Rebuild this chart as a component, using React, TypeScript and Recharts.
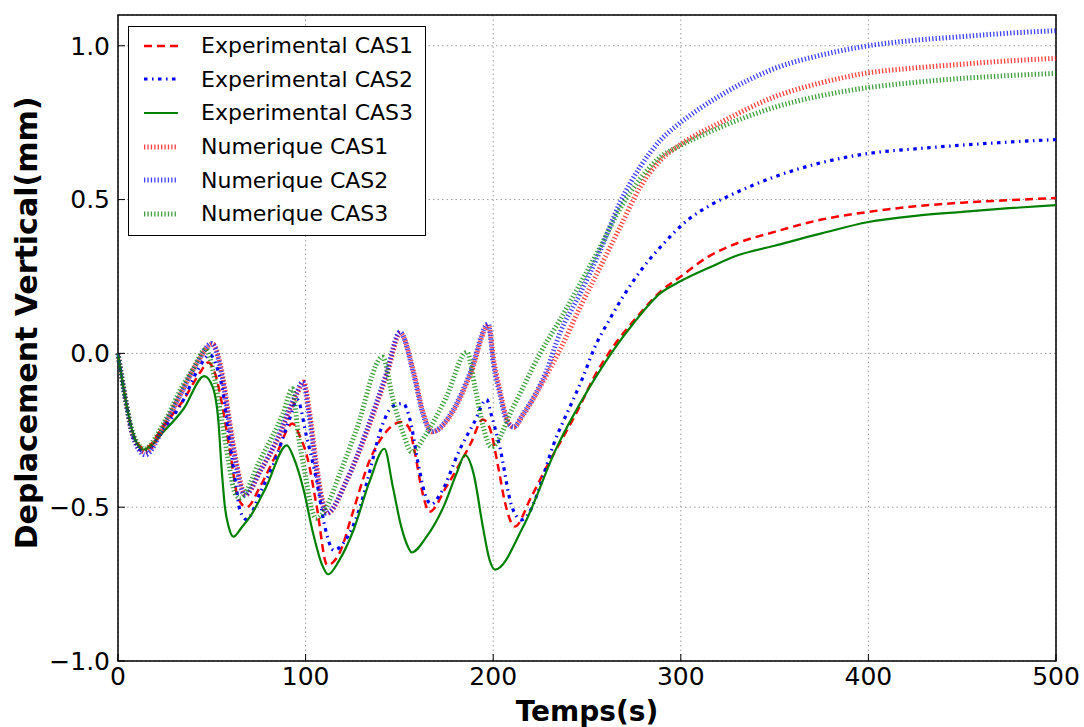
import React from "react";
import {
  CartesianGrid,
  Label,
  Legend,
  Line,
  LineChart,
  ReferenceArea,
  XAxis,
  YAxis
} from "recharts";

// time (s) / vertical displacement (mm)
const expCas1T = [0, 4, 8, 14, 25, 35, 44, 48, 52, 55, 60, 64, 68.5, 76, 85, 93, 97, 101, 106, 111.5, 118, 125, 134, 141, 151, 155, 158, 162, 166, 175, 188, 194.5, 198, 203, 206, 211.5, 220, 228.5, 246, 253.5, 261.5, 278.3, 289, 300, 315.6, 330, 350, 375, 400, 425, 450, 475, 500];
const expCas1Y = [0, -0.15, -0.26, -0.31, -0.23, -0.15, -0.06, -0.03, -0.07, -0.15, -0.33, -0.47, -0.5, -0.43, -0.32, -0.228, -0.27, -0.34, -0.5, -0.688, -0.65, -0.52, -0.35, -0.27, -0.223, -0.24, -0.315, -0.445, -0.515, -0.434, -0.293, -0.215, -0.24, -0.38, -0.477, -0.563, -0.47, -0.369, -0.174, -0.08, 0.0, 0.13, 0.2, 0.25, 0.318, 0.358, 0.395, 0.435, 0.46, 0.478, 0.49, 0.498, 0.505];

const expCas2T = [0, 4, 8, 14, 25, 35, 42, 49, 53, 55.5, 59, 63, 65, 68.5, 76, 83, 91.5, 95.5, 100.5, 106, 110.5, 115, 122, 129, 133, 140.5, 146.5, 152, 155.5, 160, 163.5, 167, 172.5, 182, 190, 196.5, 199, 203.5, 210, 215, 234.5, 248, 254, 262, 270.5, 280, 291, 303, 317, 325, 350, 375, 400, 425, 450, 475, 500];
const expCas2Y = [0, -0.15, -0.27, -0.32, -0.24, -0.15, -0.06, -0.005, -0.05, -0.11, -0.266, -0.434, -0.51, -0.54, -0.45, -0.358, -0.212, -0.15, -0.27, -0.418, -0.57, -0.64, -0.6, -0.5, -0.412, -0.24, -0.172, -0.163, -0.212, -0.358, -0.455, -0.49, -0.45, -0.315, -0.223, -0.15, -0.2, -0.304, -0.499, -0.541, -0.26, -0.075, 0.018, 0.11, 0.197, 0.28, 0.358, 0.43, 0.486, 0.51, 0.574, 0.62, 0.65, 0.665, 0.677, 0.687, 0.695];

const expCas3T = [0, 4, 8, 13.5, 25, 35, 46, 50.5, 53.5, 55.3, 57, 59, 61.5, 66, 70.5, 79, 90, 93.5, 99, 104, 108.5, 112, 118, 125.5, 134, 142, 146.5, 151, 155, 156.5, 164.5, 173.5, 180.5, 185, 189.5, 194.5, 198, 201, 216, 234, 251.5, 264, 274.7, 289, 300, 315.6, 330, 350, 375, 400, 425, 450, 475, 500];
const expCas3Y = [0, -0.15, -0.26, -0.313, -0.25, -0.18, -0.074, -0.11, -0.22, -0.38, -0.5, -0.564, -0.596, -0.565, -0.53, -0.434, -0.299, -0.337, -0.445, -0.585, -0.683, -0.718, -0.672, -0.575, -0.418, -0.31, -0.434, -0.564, -0.634, -0.647, -0.596, -0.499, -0.39, -0.331, -0.39, -0.564, -0.67, -0.703, -0.563, -0.304, -0.109, 0.01, 0.097, 0.195, 0.235, 0.28, 0.318, 0.35, 0.39, 0.427, 0.447, 0.46, 0.472, 0.482];

const numCas1T = [0, 4, 8, 14.5, 25, 34, 42, 50.5, 56, 59.5, 63, 68, 76, 85, 95.5, 99, 102, 105.5, 109, 111.5, 122, 133, 143.5, 150.5, 158, 163, 167.5, 179, 188, 197.5, 200.5, 204, 207.5, 211, 216, 228.5, 235.5, 246.3, 257, 267.6, 278.3, 289, 300, 321, 350, 375, 400, 425, 450, 475, 500];
const numCas1Y = [0, -0.15, -0.27, -0.32, -0.23, -0.125, -0.033, 0.03, -0.08, -0.22, -0.35, -0.46, -0.38, -0.282, -0.131, -0.093, -0.185, -0.347, -0.477, -0.52, -0.412, -0.25, -0.066, 0.065, -0.07, -0.2, -0.255, -0.185, -0.066, 0.09, -0.03, -0.13, -0.217, -0.24, -0.2, -0.07, 0.01, 0.15, 0.28, 0.41, 0.54, 0.627, 0.68, 0.75, 0.834, 0.88, 0.912, 0.928, 0.94, 0.951, 0.959];

const numCas2T = [0, 4, 8, 14.5, 25, 34, 42, 50, 55.5, 59, 62.5, 67.5, 76, 84.5, 95, 98.5, 101.5, 105, 108.5, 111, 122, 132.5, 143, 150.3, 157.5, 162.5, 167, 178.5, 187.5, 197.4, 200, 203.5, 207, 210.7, 216, 228.5, 235.5, 246.3, 257, 267.6, 278.3, 289, 300, 321, 350, 375, 400, 425, 450, 475, 500];
const numCas2Y = [0, -0.15, -0.27, -0.33, -0.23, -0.125, -0.033, 0.032, -0.077, -0.217, -0.347, -0.46, -0.38, -0.282, -0.131, -0.093, -0.185, -0.347, -0.477, -0.52, -0.412, -0.25, -0.066, 0.069, -0.066, -0.196, -0.255, -0.185, -0.066, 0.096, -0.03, -0.13, -0.217, -0.239, -0.196, -0.055, 0.065, 0.194, 0.334, 0.49, 0.606, 0.692, 0.751, 0.838, 0.926, 0.97, 1.0, 1.018, 1.03, 1.041, 1.049];

const numCas3T = [0, 4, 8, 14, 25, 34, 40, 46.7, 51.7, 55.3, 58.8, 62.4, 65, 75.7, 88, 93, 96, 99.7, 103, 105.5, 111, 118.3, 127, 141, 146.7, 152, 156.5, 164.5, 175, 186, 190.3, 194.7, 199, 210.7, 225, 235.5, 246.3, 257, 267.6, 278.3, 289, 300, 321, 350, 375, 400, 425, 450, 475, 500];
const numCas3Y = [0, -0.15, -0.26, -0.31, -0.22, -0.11, -0.05, 0.013, -0.088, -0.217, -0.347, -0.455, -0.47, -0.347, -0.195, -0.115, -0.26, -0.39, -0.5, -0.536, -0.5, -0.39, -0.25, -0.012, -0.153, -0.26, -0.32, -0.26, -0.142, 0.004, -0.11, -0.24, -0.304, -0.174, 0.0, 0.108, 0.226, 0.345, 0.47, 0.567, 0.638, 0.676, 0.735, 0.8, 0.838, 0.864, 0.881, 0.894, 0.903, 0.91];

const xTicks = [0, 100, 200, 300, 400, 500];
const yTicks = [-1.0, -0.5, 0.0, 0.5, 1.0];

const rows = (ts: number[], ys: number[]) => ts.map((t, i) => ({ t, v: ys[i] }));

const series = [
  { name: "Experimental CAS1", data: rows(expCas1T, expCas1Y), color: "#ff0000", width: 2.5, dash: "8 5", opacity: 1 },
  { name: "Experimental CAS2", data: rows(expCas2T, expCas2Y), color: "#0000ff", width: 3.2, dash: "3.5 4.5 1.5 4.5", opacity: 1 },
  { name: "Experimental CAS3", data: rows(expCas3T, expCas3Y), color: "#008000", width: 2.2, dash: undefined, opacity: 1 },
  { name: "Numerique CAS1", data: rows(numCas1T, numCas1Y), color: "#ff0000", width: 5, dash: "1.3 2.1", opacity: 0.75 },
  { name: "Numerique CAS2", data: rows(numCas2T, numCas2Y), color: "#0000ff", width: 5, dash: "1.3 2.1", opacity: 0.75 },
  { name: "Numerique CAS3", data: rows(numCas3T, numCas3Y), color: "#008000", width: 5, dash: "1.3 2.1", opacity: 0.75 }
];

const font = "'DejaVu Sans', sans-serif";
const fmtY = (v: number) => (v < 0 ? "\u2212" + Math.abs(v).toFixed(1) : v.toFixed(1));

function LegendBox() {
  return (
    <div
      style={{
        width: 298,
        height: 210,
        boxSizing: "border-box",
        border: "1px solid #000",
        background: "#fff",
        paddingTop: 2,
        fontFamily: font,
        fontSize: 22,
        color: "#000"
      }}
    >
      {series.map((s) => (
        <div key={s.name} style={{ height: 33.6, display: "flex", alignItems: "center" }}>
          <svg width={72} height={12} style={{ flex: "none" }}>
            <line
              x1={15}
              x2={49}
              y1={6}
              y2={6}
              stroke={s.color}
              strokeWidth={s.width}
              strokeDasharray={s.dash}
              strokeOpacity={s.opacity}
            />
          </svg>
          <span style={{ whiteSpace: "nowrap" }}>{s.name}</span>
        </div>
      ))}
    </div>
  );
}

export default function App() {
  return (
    <div style={{ position: "absolute", left: 0, top: 0, width: 1084, height: 727, background: "#fff" }}>
      <LineChart width={1084} height={727} margin={{ top: 15, right: 28, bottom: 0, left: 0 }}>
        <CartesianGrid stroke="#9a9a9a" strokeDasharray="1.5 3" strokeWidth={1} />
        <XAxis
          dataKey="t"
          type="number"
          domain={[0, 500]}
          ticks={xTicks}
          height={66}
          tickSize={-7}
          tickMargin={13}
          axisLine={false}
          tickLine={{ stroke: "#000" }}
          tick={{ fill: "#000", fontSize: 25, fontFamily: font }}
          allowDuplicatedCategory={false}
        >
          <Label
            content={({ viewBox }: any) => (
              <text
                x={viewBox.x + viewBox.width / 2}
                y={721}
                textAnchor="middle"
                fontFamily={font}
                fontWeight="bold"
                fontSize={28}
                fill="#000"
              >
                Temps(s)
              </text>
            )}
          />
        </XAxis>
        <XAxis
          xAxisId="top"
          orientation="top"
          dataKey="t"
          type="number"
          domain={[0, 500]}
          ticks={xTicks}
          height={0}
          tickSize={-7}
          axisLine={false}
          tickLine={{ stroke: "#000" }}
          tickFormatter={() => ""}
        />
        <YAxis
          type="number"
          domain={[-1, 1.1]}
          ticks={yTicks}
          width={118}
          tickSize={-7}
          tickMargin={15}
          axisLine={false}
          tickLine={{ stroke: "#000" }}
          tickFormatter={fmtY}
          tick={{ fill: "#000", fontSize: 25, fontFamily: font }}
          allowDataOverflow
        >
          <Label
            content={() => {
              const cx = 37;
              const cy = 323;
              return (
                <text
                  x={cx}
                  y={cy}
                  transform={`rotate(-90 ${cx} ${cy})`}
                  textAnchor="middle"
                  fontFamily={font}
                  fontWeight="bold"
                  fontSize={30}
                  fill="#000"
                >
                  Deplacement Vertical(mm)
                </text>
              );
            }}
          />
        </YAxis>
        <YAxis
          yAxisId="right"
          orientation="right"
          type="number"
          domain={[-1, 1.1]}
          ticks={yTicks}
          width={0}
          tickSize={-7}
          axisLine={false}
          tickLine={{ stroke: "#000" }}
          tickFormatter={() => ""}
          allowDataOverflow
        />
        {series.map((s) => (
          <Line
            key={s.name}
            data={s.data}
            dataKey="v"
            name={s.name}
            type="monotone"
            stroke={s.color}
            strokeWidth={s.width}
            strokeDasharray={s.dash}
            strokeOpacity={s.opacity}
            dot={false}
            activeDot={false}
            isAnimationActive={false}
          />
        ))}
        <ReferenceArea
          x1={0}
          x2={500}
          y1={-1}
          y2={1.1}
          fill="none"
          fillOpacity={0}
          stroke="#000"
          strokeWidth={1.5}
          ifOverflow="visible"
        />
        <Legend
          layout="vertical"
          align="center"
          verticalAlign="middle"
          content={() => <LegendBox />}
          wrapperStyle={{ position: "absolute", left: 128, top: 26, width: 298 }}
        />
      </LineChart>
    </div>
  );
}
